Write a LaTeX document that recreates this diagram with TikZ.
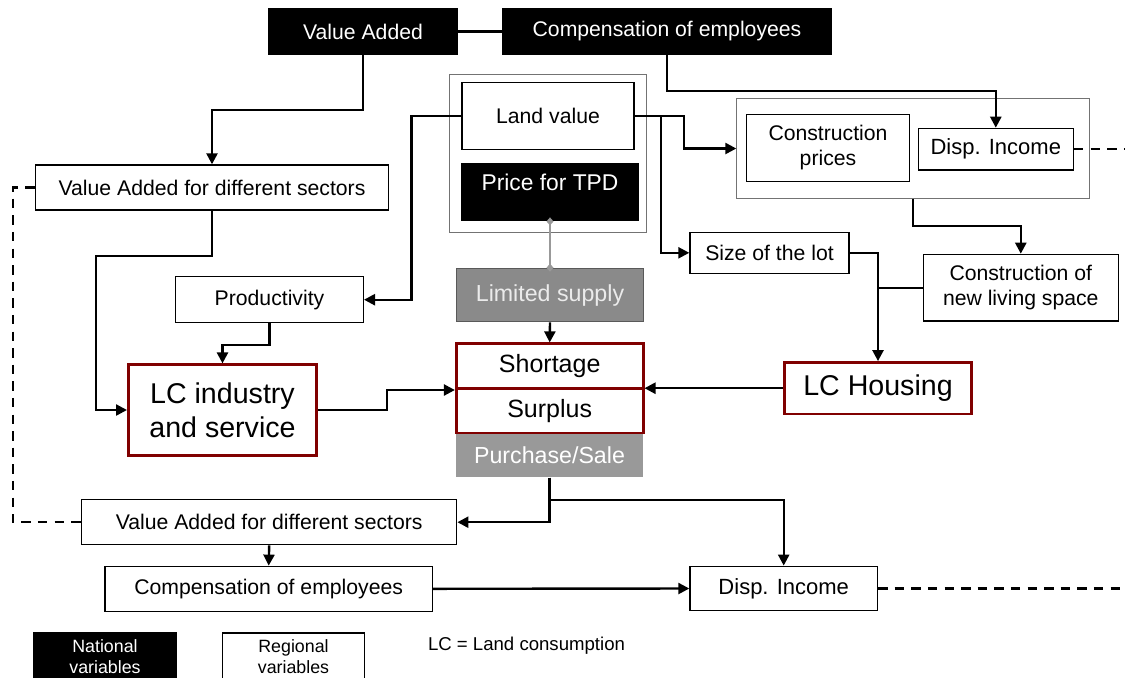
\documentclass[tikz,border=0pt]{standalone}
\usepackage{fontspec}
\setmainfont{Liberation Sans}
\usetikzlibrary{arrows.meta}

\definecolor{lcred}{RGB}{128,0,0}
\definecolor{supplygrey}{RGB}{138,138,138}
\definecolor{salegrey}{RGB}{153,153,153}

\tikzset{
  regbox/.style={draw, line width=0.7pt, fill=white, inner sep=0pt, align=center,
    font=\fontsize{10.6}{12.5}\selectfont},
  natbox/.style={regbox, fill=black, text=white},
  lcbox/.style={regbox, draw=lcred, line width=1.3pt},
  greybox/.style={regbox, draw=black!65, line width=0.6pt, fill=supplygrey, text=black!8,
    font=\fontsize{11.6}{13}\selectfont},
  framebox/.style={draw=black!55, line width=0.4pt, inner sep=0pt},
  arr/.style={line width=1.2pt, -{Triangle[length=5.5pt,width=5.5pt]}},
  link/.style={line width=1.2pt},
  greylink/.style={draw=black!40, line width=0.8pt, {Diamond[length=4pt,width=3.5pt]}-{Diamond[length=4pt,width=3.5pt]},
    shorten <=-2pt, shorten >=-2pt},
  dashlink/.style={line width=1.2pt, dash pattern=on 4.7pt off 3.6pt},
}

\begin{document}
\begin{tikzpicture}[x=0.5pt, y=-0.5pt]

    \useasboundingbox (0,0) rectangle (1125,677);

    % national variables on top
    \node[natbox, minimum width=94pt, minimum height=22.5pt] (va) at (363,31.5) {Value Added};
    \node[natbox, minimum width=164pt, minimum height=22.5pt] (comp) at (667,31.5) {Compensation of employees};

    % frames
    \node[framebox, minimum width=98.5pt, minimum height=79pt] (landframe) at (547.5,153.2) {};
    \node[framebox, minimum width=176.3pt, minimum height=49.8pt] (costframe) at (913,148.5) {};

    % land market
    \node[regbox, minimum width=86pt, minimum height=33.5pt] (land) at (548,116.2) {Land value};
    \node[natbox, minimum width=88pt, minimum height=28.7pt, text height=13.8pt, text depth=14.9pt,
        font=\fontsize{11.4}{13}\selectfont] (tpd) at (550,192) {Price for TPD};
    \node[regbox, minimum width=81.3pt, minimum height=33.7pt] (cprice) at (828,148) {Construction\\prices};
    \node[regbox, minimum width=77.5pt, minimum height=20.8pt, font=\fontsize{11}{13}\selectfont] (dinc1) at (995.8,149.2) {Disp. Income};
    \node[regbox, minimum width=176.5pt, minimum height=22.5pt] (vasec1) at (212,187.5) {Value Added for different sectors};
    \node[regbox, minimum width=93.8pt, minimum height=23pt] (prod) at (269.5,299.7) {Productivity};
    \node[regbox, minimum width=79.5pt, minimum height=20.5pt] (lot) at (769.5,252.8) {Size of the lot};
    \node[regbox, minimum width=97.5pt, minimum height=33.3pt] (living) at (1020.8,287.7) {Construction of\\new living space};
    \node[greybox, minimum width=93.3pt, minimum height=26.7pt] (limited) at (550,295) {Limited supply};

    % land consumption
    \node[fill=salegrey, text=white, inner sep=0pt, minimum width=93.5pt, minimum height=22.2pt,
        font=\fontsize{11.6}{13}\selectfont] (sale) at (549.5,455.1) {Purchase/Sale};
    \node[lcbox, minimum width=94.2pt, minimum height=45.3pt, font=\fontsize{14.3}{17}\selectfont] (lcind) at (222.5,410) {LC industry\\and service};
    \node[lcbox, minimum width=93.5pt, minimum height=22.5pt, font=\fontsize{12.5}{14}\selectfont] (short) at (549.7,366.2) {Shortage};
    \node[lcbox, minimum width=93.5pt, minimum height=22.2pt, font=\fontsize{12.5}{14}\selectfont] (surplus) at (549.7,410.8) {Surplus};
    \node[lcbox, minimum width=93.7pt, minimum height=25.8pt, font=\fontsize{14.3}{17}\selectfont] (lchouse) at (878,388.2) {LC Housing};

    % regional variables below
    \node[regbox, minimum width=187.5pt, minimum height=22.5pt] (vasec2) at (269.2,522.2) {Value Added for different sectors};
    \node[regbox, minimum width=163.7pt, minimum height=22.5pt] (comp2) at (268.7,588.8) {Compensation of employees};
    \node[regbox, minimum width=93.7pt, minimum height=22.2pt, font=\fontsize{11}{13}\selectfont] (dinc2) at (783.7,588.5) {Disp. Income};

    % legend
    \node[natbox, minimum width=71.7pt, minimum height=23.5pt, font=\fontsize{8.9}{10.8}\selectfont] (legnat) at (105,656.5) {National\\variables};
    \node[regbox, minimum width=70.8pt, minimum height=23.5pt, font=\fontsize{8.9}{10.8}\selectfont] (legreg) at (293.5,656.5) {Regional\\variables};
    \node[inner sep=0pt, font=\fontsize{9.3}{11}\selectfont] (lcnote) at (526.5,646) {LC = Land consumption};

    \coordinate (edgeA) at (1125,149.2);
    \coordinate (edgeB) at (1125,588.5);
    \path (land.east) ++(26,0) coordinate (lvsplit);

    % connectors
    \draw[link] (va.east) -- (comp.west);
    \draw[arr] (va.south) -- ++(0,55) -| (vasec1.north);
    \draw[arr] (comp.south) -- ++(0,36) -| (dinc1.north);
    \draw[arr] (land.west) -- ++(-50,0) |- (prod.east);
    \draw[arr] (land.east) -- ++(49.3,0) |- (costframe.west);
    \draw[arr] (lvsplit) |- (lot.west);
    \draw[greylink] (tpd.south) -- (limited.north);
    \draw[arr] (limited.south) -- (short.north);
    \draw[arr] (vasec1.south) |- (95.7,256) |- (lcind.west);
    \draw[arr] (prod.south) -- ++(0,21.3) -| (lcind.north);
    \draw[arr] (lcind.east) -- ++(69,0) |- (short.south west);
    \draw[arr] (lchouse.west) -- (lchouse.west -| short.east);
    \draw[arr] (lot.east) -| (lchouse.north);
    \draw[link] (living.west) -- (living.west -| lchouse.north);
    \draw[arr] (costframe.south) -- ++(0,27.4) -| (living.north);
    \draw[dashlink] (dinc1.east) -- (edgeA);
    \draw[arr] (sale.south) -- ++(0,22.4) -| (dinc2.north);
    \draw[arr] (sale.south) |- (vasec2.east);
    \draw[arr] (vasec2.south) -- (comp2.north);
    \draw[arr] (comp2.east) -- (dinc2.west);
    \draw[dashlink] (dinc2.east) -- (edgeB);
    \draw[dashlink] (vasec1.west) -- ++(-22,0) |- (vasec2.west);

\end{tikzpicture}
\end{document}
